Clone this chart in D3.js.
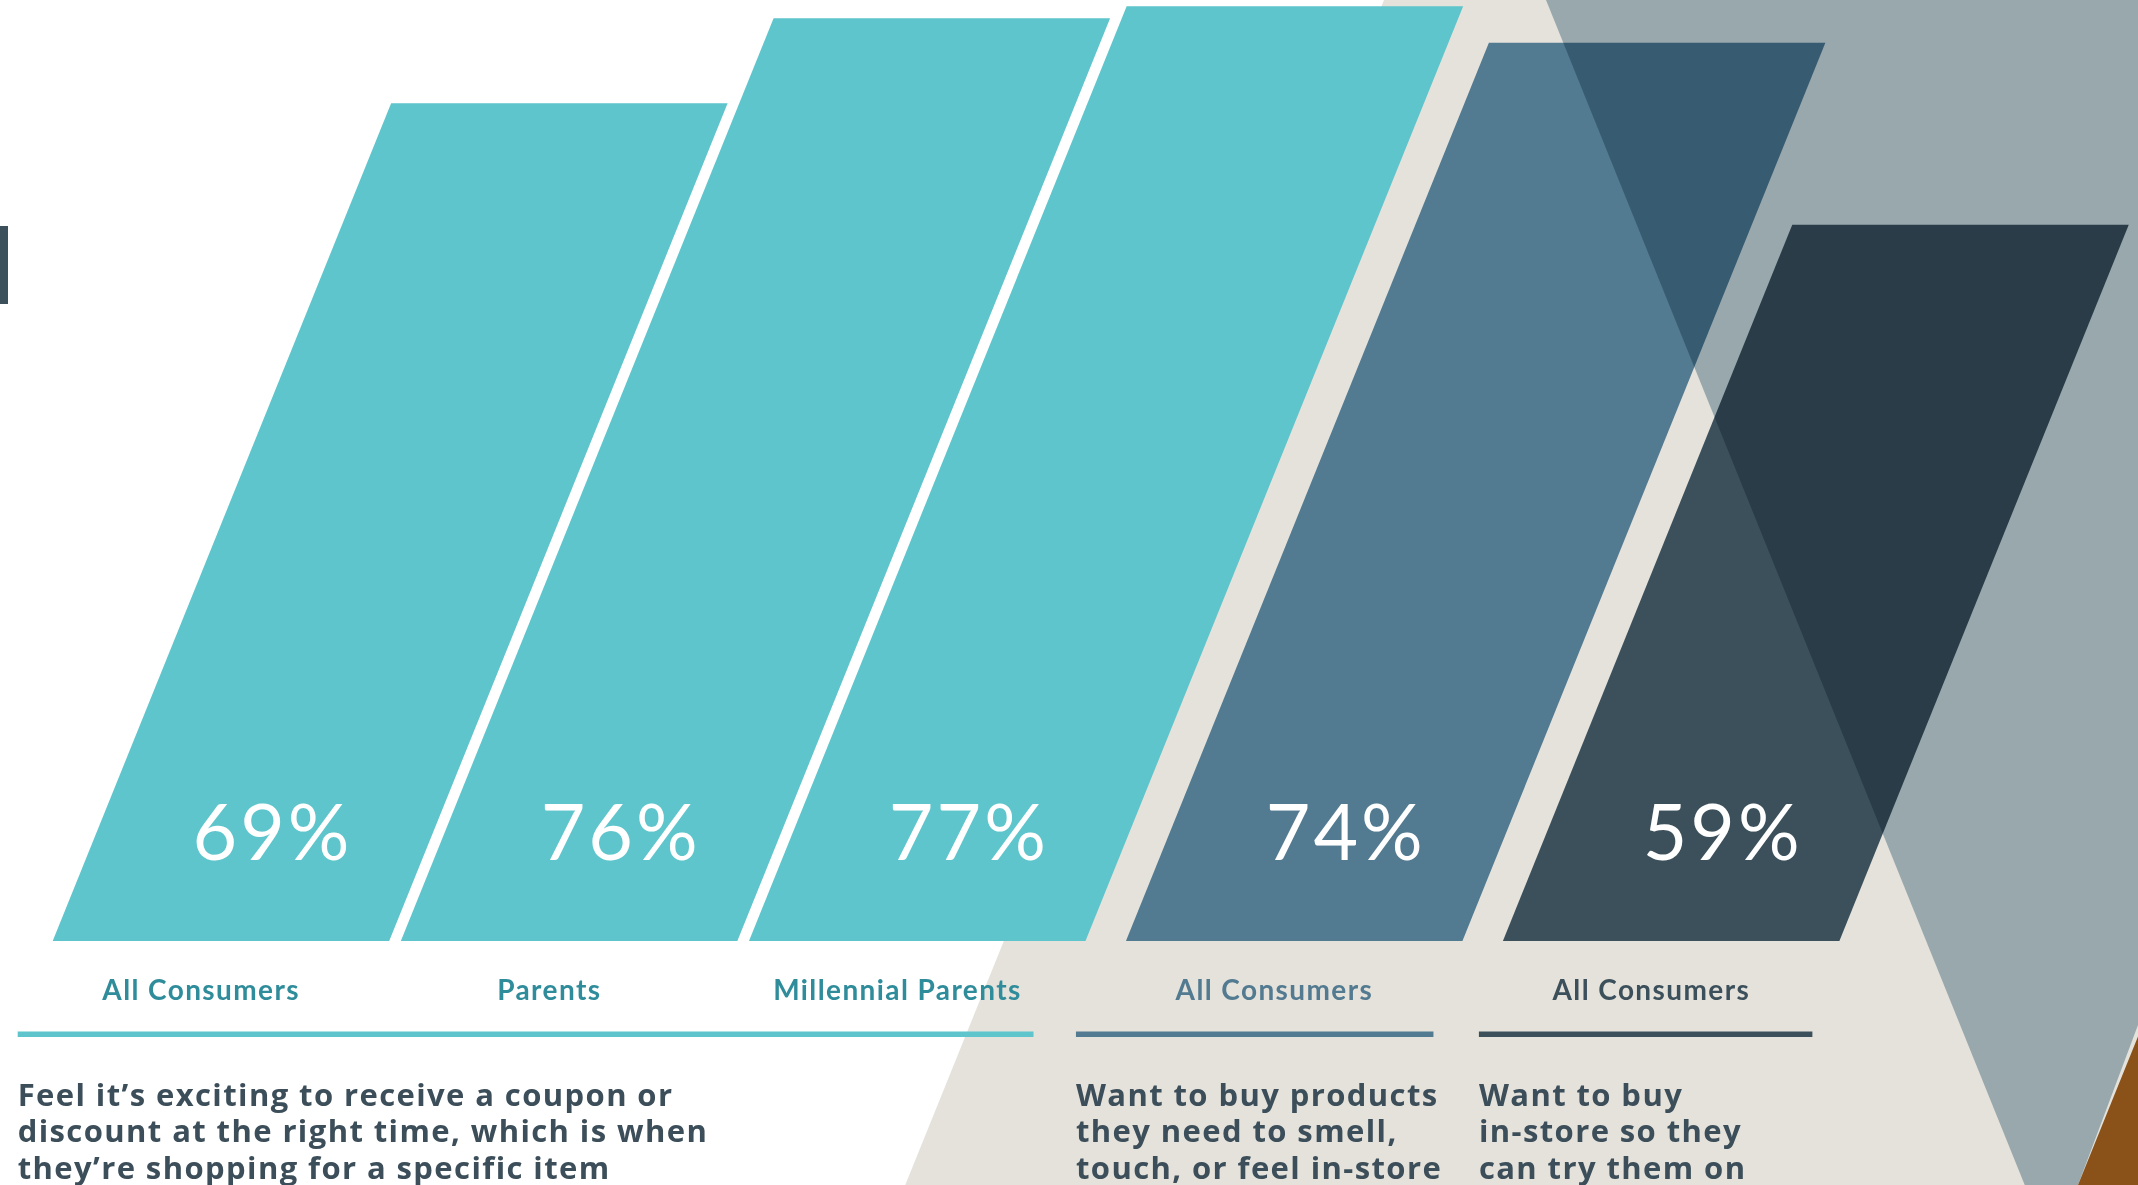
<!DOCTYPE html>
<html>
<head>
<meta charset="utf-8">
<script src="https://cdn.jsdelivr.net/npm/d3@7"></script>
<style>
  html, body { margin: 0; padding: 0; background: #ffffff; }
  svg { display: block; }
</style>
</head>
<body>
<svg id="chart" width="2138" height="1185"></svg>
<script>
// Share of consumers agreeing with each statement
const categories = ["All Consumers", "Parents", "Millennial Parents", "All Consumers", "All Consumers"];
const values = [69, 76, 77, 74, 59];
const groupOf = [0, 0, 0, 1, 2];
const valueLabels = ["69%", "76%", "77%", "74%", "59%"];
const descriptions = [
  ["Feel it\u2019s exciting to receive a coupon or", "discount at the right time, which is when", "they\u2019re shopping for a specific item"],
  ["Want to buy products", "they need to smell,", "touch, or feel in-store"],
  ["Want to buy", "in-store so they", "can try them on"]
];

const W = 2138, H = 1185;
const barColors = ["#5dc5cb", "#5dc5cb", "#5dc5cb", "#527a90", "#3c505b"];
const labelColors = ["#2f8c9b", "#2f8c9b", "#2f8c9b", "#527a90", "#3c505b"];
const groupColors = ["#5dc5cb", "#527a90", "#3c505b"];
const textDark = "#3c4e59";
const SLANT = 0.404;          // horizontal lean of every bar per pixel of height
const GROUP_GAP = 28.8;        // extra space between statement groups
// how far each group's underline hangs left of / stops short of its bars
const ruleLead = [35, 50, 24];
const ruleTrim = [52, 29, 27];

const svg = d3.select("#chart");

// scales
const baseY = 941;
const y = d3.scaleLinear().domain([0, 100]).range([baseY, baseY - 1214]);
const step = 348.15, pad = 0.0335;
const xBand = d3.scaleBand()
  .domain(d3.range(values.length))
  .range([52.7, 52.7 + step * (values.length - pad)])
  .paddingInner(pad).paddingOuter(0);
const bw = xBand.bandwidth();
const xLeft = i => xBand(i) + groupOf[i] * GROUP_GAP;

// background wedge
const bgLine = yy => 1384 - SLANT * yy;
svg.append("path")
  .attr("d", d3.line()([[bgLine(0), 0], [W, 0], [W, H], [bgLine(H), H]]) + "Z")
  .attr("fill", "#e5e2dc");

// small accent tab on the left edge
svg.append("rect").attr("x", 0).attr("y", 226).attr("width", 8).attr("height", 78).attr("fill", "#3c505b");

// slanted bars
const barPath = (d, i) => {
  const x0 = xLeft(i), yt = y(d), h = baseY - yt;
  return d3.line()([
    [x0, baseY], [x0 + bw, baseY],
    [x0 + bw + SLANT * h, yt], [x0 + SLANT * h, yt]
  ]) + "Z";
};
svg.append("g").selectAll("path").data(values).join("path")
  .attr("d", barPath)
  .attr("fill", (d, i) => barColors[i]);

// value labels, centred on each bar's axis
const valY = 817;
svg.append("g").selectAll("text").data(values).join("text")
  .attr("x", (d, i) => xLeft(i) + bw / 2 + SLANT * (baseY - valY) + 1.5)
  .attr("y", 860)
  .attr("text-anchor", "middle")
  .attr("font-family", "Lato, 'Open Sans', sans-serif")
  .attr("font-size", 77)
  .attr("font-weight", 400)
  .attr("letter-spacing", 3)
  .attr("fill", "#ffffff")
  .text((d, i) => valueLabels[i]);

// category labels below the bars
const catY = 990;
svg.append("g").selectAll("text").data(categories).join("text")
  .attr("x", (d, i) => xLeft(i) + bw / 2 - SLANT * (catY - baseY))
  .attr("y", 1000)
  .attr("text-anchor", "middle")
  .attr("font-family", "Lato, 'Open Sans', sans-serif")
  .attr("font-size", 28)
  .attr("font-weight", 700)
  .attr("letter-spacing", 1.4)
  .attr("fill", (d, i) => labelColors[i])
  .text(d => d);

// group underlines and statements
const groups = d3.groups(d3.range(values.length), i => groupOf[i]);
groups.forEach(([g, idx]) => {
  const gl = xLeft(idx[0]);
  const gr = xLeft(idx[idx.length - 1]) + bw;
  const x1 = gl - ruleLead[g], x2 = gr - ruleTrim[g];
  svg.append("rect")
    .attr("x", x1).attr("y", 1031.5)
    .attr("width", x2 - x1).attr("height", 5.5)
    .attr("fill", groupColors[g]);
  svg.append("text")
    .attr("x", x1)
    .attr("font-family", "'Open Sans', Lato, sans-serif")
    .attr("font-size", 31)
    .attr("font-weight", 700)
    .attr("letter-spacing", 1.4)
    .attr("fill", textDark)
    .selectAll("tspan").data(descriptions[g]).join("tspan")
      .attr("x", x1)
      .attr("y", (d, k) => 1105.7 + k * 36.7)
      .text(d => d);
});

// translucent grey wedge tinting whatever lies beneath it
const greyLeft = yy => 1546 + SLANT * yy;
const brownEdge = yy => 2078 + SLANT * (H - yy);
svg.append("path")
  .attr("d", d3.line()([[greyLeft(0), 0], [W, 0], [W, 1025], [2078, H], [greyLeft(H), H]]) + "Z")
  .attr("fill", "#abbec8")
  .style("mix-blend-mode", "multiply");

// brown corner wedge
svg.append("path")
  .attr("d", d3.line()([[brownEdge(1020), 1020], [W, 1020], [W, H], [2078, H]]) + "Z")
  .attr("fill", "#8a5219");
</script>
</body>
</html>
